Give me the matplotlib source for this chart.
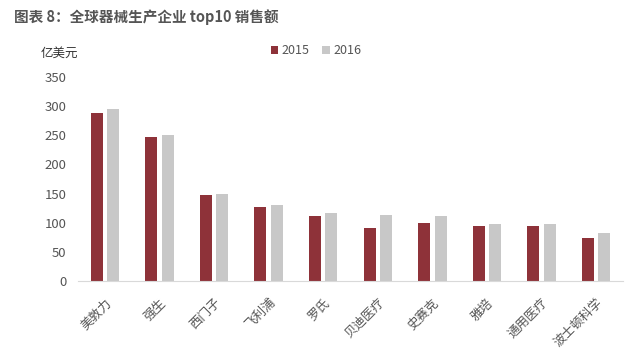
import numpy as np
import matplotlib
matplotlib.use('Agg')
import matplotlib.pyplot as plt

plt.rcParams['font.family'] = ['Noto Sans CJK SC', 'DejaVu Sans']

companies = ['美敦力', '强生', '西门子', '飞利浦', '罗氏', '贝迪医疗', '史赛克', '雅培', '通用医疗', '波士顿科学']
sales_2015 = [288, 247, 148, 127, 111, 91, 99, 94, 94, 74]
sales_2016 = [296, 250, 150, 131, 116, 113, 112, 98, 98, 83]

fig = plt.figure(figsize=(6.4, 3.52), dpi=100)
ax = fig.add_axes([0.1214, 0.202, 0.8525, 0.579])

x = np.arange(len(companies))
w = 0.22
ax.bar(x - 0.15, sales_2015, w, color='#8E3239', label='2015')
ax.bar(x + 0.15, sales_2016, w, color='#C8C8C8', label='2016')

ax.set_xlim(-0.5, len(companies) - 0.5)
ax.set_ylim(0, 350)
ax.set_yticks(range(0, 351, 50))
ax.set_xticks(x)
ax.set_xticklabels(companies, rotation=45, ha='right', rotation_mode='anchor')
ax.tick_params(axis='both', length=0, colors='#555555', labelsize=9)
ax.tick_params(axis='y', pad=8, labelsize=9.5)
ax.tick_params(axis='x', pad=11)

for s in ['top', 'right', 'left']:
    ax.spines[s].set_visible(False)
ax.spines['bottom'].set_color('#D9D9D9')

fig.text(0.022, 0.952, '图表 8：全球器械生产企业 top10 销售额', fontsize=10.5, fontweight='bold',
         color='#555555', va='center')
fig.text(0.063, 0.849, '亿美元', fontsize=9, color='#333333', va='center')

fig.legend(loc='center', bbox_to_anchor=(0.494, 0.856), ncol=2, frameon=False, fontsize=9,
           handlelength=0.6, handleheight=0.6, handletextpad=0.3, columnspacing=1.0,
           labelcolor='#555555')

fig.savefig('out.png', dpi=100)
